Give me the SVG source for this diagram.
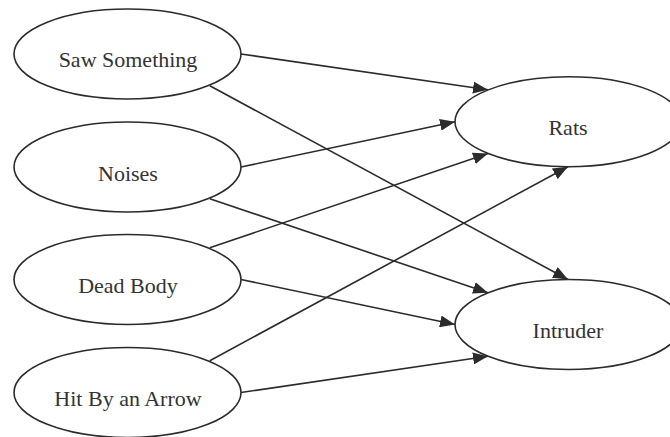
<svg xmlns="http://www.w3.org/2000/svg" width="670" height="437" viewBox="0 0 670 437">
<style>
.node ellipse{fill:#fff;stroke:#2b2b2b;stroke-width:1.6}
.node text{font-family:"Liberation Serif","Times New Roman",serif;font-size:22px;fill:#333;text-anchor:middle}
#edges line{stroke:#2b2b2b;stroke-width:1.6;marker-end:url(#arr)}
</style>
<defs>
<marker id="arr" viewBox="0 0 15 12" refX="15" refY="6" markerWidth="15" markerHeight="12" markerUnits="userSpaceOnUse" orient="auto">
<path d="M0,0 L15,6 L0,12 Z" fill="#2b2b2b"/>
</marker>
</defs>
<rect width="670" height="437" fill="#fff"/>
<g id="edges">
<line x1="241" y1="54" x2="488" y2="89.8"/>
<line x1="209.8" y1="85.8" x2="568" y2="279.5"/>
<line x1="241" y1="167" x2="455" y2="121.7"/>
<line x1="209.8" y1="198.8" x2="488" y2="292.7"/>
<line x1="209.8" y1="247.7" x2="488" y2="153.5"/>
<line x1="241" y1="279.5" x2="455" y2="324.5"/>
<line x1="209.8" y1="360.7" x2="568" y2="166.7"/>
<line x1="241" y1="392.5" x2="488" y2="356.3"/>
</g>
<g id="saw" class="node"><ellipse cx="127.5" cy="54" rx="113.5" ry="45"/><text x="128" y="67">Saw Something</text></g>
<g id="noises" class="node"><ellipse cx="127.5" cy="167" rx="113.5" ry="45"/><text x="128" y="180.5">Noises</text></g>
<g id="dead" class="node"><ellipse cx="127.5" cy="279.5" rx="113.5" ry="45"/><text x="128" y="293">Dead Body</text></g>
<g id="hit" class="node"><ellipse cx="127.5" cy="392.5" rx="113.5" ry="45"/><text x="128" y="406">Hit By an Arrow</text></g>
<g id="rats" class="node"><ellipse cx="568.5" cy="121.7" rx="113.5" ry="45"/><text x="568" y="134.5">Rats</text></g>
<g id="intruder" class="node"><ellipse cx="568.5" cy="324.5" rx="113.5" ry="45"/><text x="568" y="338">Intruder</text></g>
</svg>
